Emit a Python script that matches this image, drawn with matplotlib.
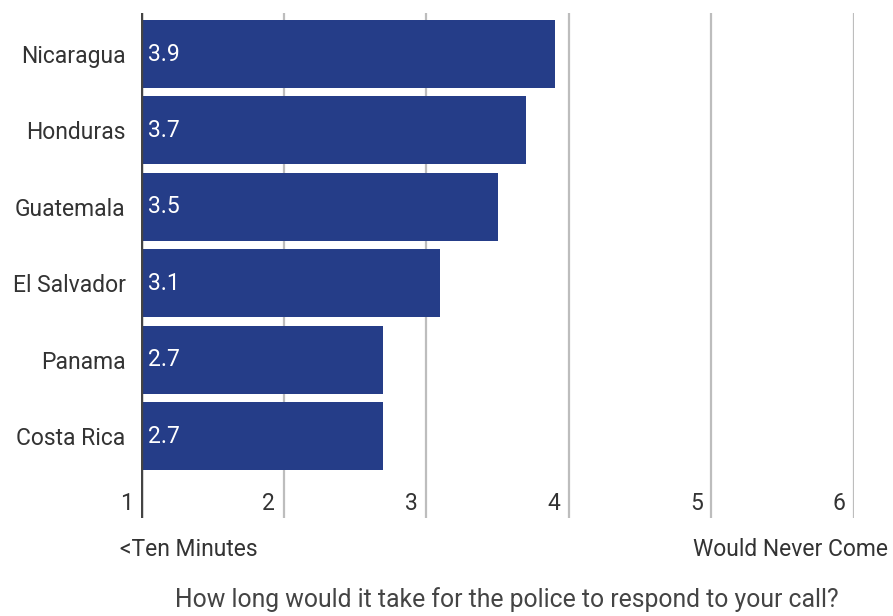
import matplotlib
matplotlib.use("Agg")
import matplotlib.pyplot as plt

countries = ["Nicaragua", "Honduras", "Guatemala", "El Salvador", "Panama", "Costa Rica"]
values = [3.9, 3.7, 3.5, 3.1, 2.7, 2.7]
ticks = [1, 2, 3, 4, 5, 6]
low_label = "<Ten Minutes"
high_label = "Would Never Come"
title = "How long would it take for the police to respond to your call?"

plt.rcParams['font.family'] = ['Roboto', 'DejaVu Sans']
W, H = 893, 616
fig = plt.figure(figsize=(W / 100, H / 100), dpi=100)
ax = fig.add_axes([141 / W, 1 - 518 / H, (854 - 141) / W, (518 - 13) / H])

bar_color = '#253d88'
text_color = '#333333'
fs = 16.5
pos = list(range(len(countries)))
ax.barh(pos, [v - 1 for v in values], left=1, height=0.89, color=bar_color, zorder=3)
ax.set_xlim(1, 6)
ax.set_ylim(6.073, -0.537)

for t in ticks[1:]:
    ax.axvline(t, color='#bdbdbd', lw=1.6, zorder=1)
ax.axvline(1, color='#444444', lw=3.2, zorder=4)

for s in ax.spines.values():
    s.set_visible(False)
ax.set_xticks([])
ax.set_yticks(pos)
ax.set_yticklabels(countries, fontsize=fs, color=text_color)
ax.tick_params(axis='y', length=0, pad=11)

for p, v in zip(pos, values):
    ax.annotate(f"{v:.1f}", xy=(1, p), xytext=(5, 0), textcoords='offset points',
                ha='left', va='center', color='white', fontsize=fs, zorder=5)

for t in ticks:
    ax.annotate(str(t), xy=(t, 5.877), xytext=(-6, 0), textcoords='offset points',
                ha='right', va='center', color=text_color, fontsize=fs, annotation_clip=False)

fig.text(120 / W, 1 - 549 / H, low_label, ha='left', va='center', fontsize=fs, color=text_color)
fig.text(888 / W, 1 - 549 / H, high_label, ha='right', va='center', fontsize=fs, color=text_color)
fig.text(507 / W, 1 - 600 / H, title, ha='center', va='center', fontsize=17.8, color='#444444')

fig.savefig("out.png", dpi=100)
